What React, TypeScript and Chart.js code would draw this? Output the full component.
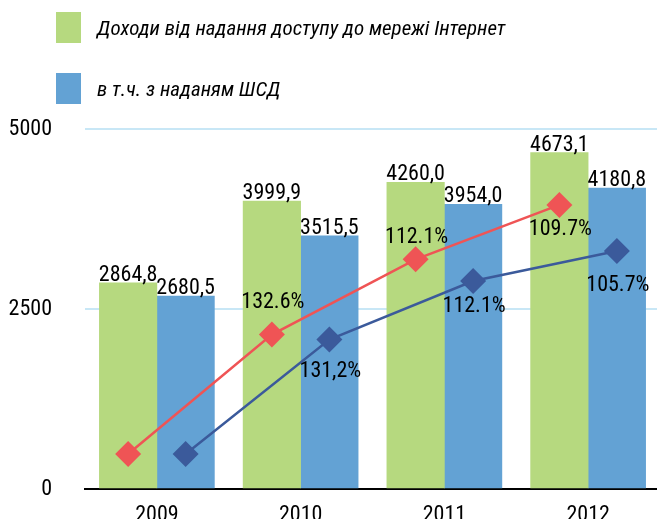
import React, { useEffect, useRef } from "react";
import { Chart, registerables } from "chart.js";

Chart.register(...registerables);

const years = ["2009", "2010", "2011", "2012"];
const internetIncome = [2864.8, 3999.9, 4260.0, 4673.1];
const broadbandIncome = [2680.5, 3515.5, 3954.0, 4180.8];
const internetGrowthLine = [486, 2145, 3190, 3946];
const broadbandGrowthLine = [486, 2075, 2888, 3306];
const internetGrowthLabels = ["", "132.6%", "112.1%", "109.7%"];
const broadbandGrowthLabels = ["", "131,2%", "112.1%", "105.7%"];
const yTicks = [0, 2500, 5000];
const legendLabels = [
  "Доходи від надання доступу до мережі Інтернет",
  "в т.ч. з наданям ШСД",
];

// layout / style constants (not data)
const BAR_SHIFT = 0.2; // half of a bar, in category units
const internetLabelDy = [0, -32, -22, 25];
const broadbandLabelDy = [0, 32, 25, 35];

const GREEN = "#b6d97f";
const BLUE = "#63a2d4";
const RED = "#ef5455";
const NAVY = "#3b5a9b";
const GRID = "#c8e7f6";
const FONT_FAMILY = '"Roboto Condensed", "DejaVu Sans Condensed", sans-serif';

const fmt = (v: number) => v.toFixed(1).replace(".", ",");
const shifted = (vals: number[], dx: number) => vals.map((v, i) => ({ x: i + dx, y: v }));

const labelsPlugin = {
  id: "valueLabels",
  afterDatasetsDraw(chart: any) {
    const ctx = chart.ctx;
    ctx.save();
    ctx.font = `22px ${FONT_FAMILY}`;
    ctx.fillStyle = "#000";
    ctx.textAlign = "center";
    ctx.textBaseline = "alphabetic";
    const barSets = [internetIncome, broadbandIncome];
    barSets.forEach((vals, di) => {
      const meta = chart.getDatasetMeta(di);
      meta.data.forEach((el: any, i: number) => {
        ctx.fillText(fmt(vals[i]), el.x, el.y - 2);
      });
    });
    ctx.textBaseline = "middle";
    const lineSets = [
      { labels: internetGrowthLabels, dy: internetLabelDy },
      { labels: broadbandGrowthLabels, dy: broadbandLabelDy },
    ];
    lineSets.forEach((ls, k) => {
      const meta = chart.getDatasetMeta(2 + k);
      meta.data.forEach((el: any, i: number) => {
        if (!ls.labels[i]) return;
        ctx.fillText(ls.labels[i], el.x + 1, el.y + ls.dy[i]);
      });
    });
    ctx.restore();
  },
};

export default function App() {
  const ref = useRef<HTMLCanvasElement | null>(null);

  useEffect(() => {
    if (!ref.current) return;
    const chart = new Chart(ref.current, {
      type: "bar",
      data: {
        labels: years,
        datasets: [
          {
            type: "bar",
            label: legendLabels[0],
            data: shifted(internetIncome, -BAR_SHIFT),
            backgroundColor: GREEN,
            categoryPercentage: 1,
            barPercentage: 1,
            grouped: false,
            xAxisID: "xl",
            order: 2,
          },
          {
            type: "bar",
            label: legendLabels[1],
            data: shifted(broadbandIncome, BAR_SHIFT),
            backgroundColor: BLUE,
            categoryPercentage: 1,
            barPercentage: 1,
            grouped: false,
            xAxisID: "xl",
            order: 2,
          },
          {
            type: "line",
            label: "internet growth",
            data: shifted(internetGrowthLine, -BAR_SHIFT),
            xAxisID: "xl",
            borderColor: RED,
            borderWidth: 2.5,
            pointStyle: "rectRot",
            pointRadius: 13,
            pointBackgroundColor: RED,
            pointBorderWidth: 0,
            order: 0,
          },
          {
            type: "line",
            label: "broadband growth",
            data: shifted(broadbandGrowthLine, BAR_SHIFT),
            xAxisID: "xl",
            borderColor: NAVY,
            borderWidth: 2.5,
            pointStyle: "rectRot",
            pointRadius: 13,
            pointBackgroundColor: NAVY,
            pointBorderWidth: 0,
            order: 0,
          },
        ] as any,
      },
      options: {
        animation: false,
        responsive: false,
        devicePixelRatio: 1,
        layout: { padding: { top: 129, right: 4, left: 0, bottom: 0 } },
        plugins: {
          legend: { display: false },
          tooltip: { enabled: false },
        },
        scales: {
          x: {
            type: "category",
            labels: years,
            offset: true,
            grid: { display: false, drawTicks: false },
            border: { display: true, color: "#000", width: 2 },
            ticks: {
              color: "#000",
              font: { family: FONT_FAMILY, size: 22 },
              padding: 13,
            },
            afterFit: (s: any) => {
              s.height = 51;
            },
          },
          xl: {
            type: "linear",
            display: false,
            offset: false,
            min: -0.5,
            max: 3.5,
            ticks: { stepSize: 1 },
            grid: { offset: false },
          },
          y: {
            min: 0,
            max: 5000,
            stacked: false,
            afterBuildTicks: (s: any) => {
              s.ticks = yTicks.map((v) => ({ value: v }));
            },
            ticks: {
              color: "#000",
              font: { family: FONT_FAMILY, size: 22 },
              padding: 33,
              callback: (v: any) => String(v),
            },
            grid: {
              color: (c: any) => (c.tick && c.tick.value === 0 ? "rgba(0,0,0,0)" : GRID),
              lineWidth: 2,
              drawTicks: false,
            },
            border: { display: false },
            afterFit: (s: any) => {
              s.width = 85;
            },
          },
        },
      } as any,
      plugins: [labelsPlugin],
    });
    return () => chart.destroy();
  }, []);

  const legendColors = [GREEN, BLUE];
  const legendTops = [12, 73];

  return (
    <div
      style={{
        position: "absolute",
        left: 0,
        top: 0,
        width: 657,
        height: 519,
        overflow: "hidden",
        background: "#fff",
      }}
    >
      <canvas ref={ref} width={673} height={540} style={{ width: 673, height: 540, display: "block" }} />
      {legendLabels.map((t, i) => (
        <div
          key={i}
          style={{
            position: "absolute",
            left: 56,
            top: legendTops[i],
            height: 31,
            display: "flex",
            alignItems: "center",
            whiteSpace: "nowrap",
          }}
        >
          <div style={{ width: 25, height: 31, background: legendColors[i] }} />
          <span
            style={{
              marginLeft: 16,
              fontFamily: FONT_FAMILY,
              fontStyle: "italic",
              fontSize: 21,
              color: "#000",
              lineHeight: "24px",
            }}
          >
            {t}
          </span>
        </div>
      ))}
    </div>
  );
}
